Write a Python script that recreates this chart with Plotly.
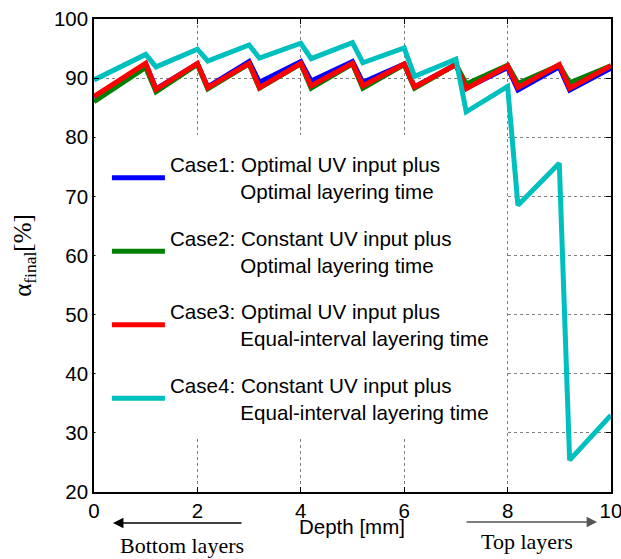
import plotly.graph_objects as go

# ---- data ----
depth = [0, 1.0, 1.2, 2.0, 2.2, 3.0, 3.2, 4.0, 4.2, 5.0, 5.2,
         6.0, 6.2, 7.0, 7.2, 8.0, 8.2, 9.0, 9.2, 10.0]

case1 = [86.8, 92.4, 88.2, 92.4, 88.5, 92.8, 89.3, 92.8, 89.5, 92.8, 89.3,
         92.4, 88.5, 92.3, 88.3, 91.8, 88.0, 91.9, 88.0, 91.7]
case2 = [86.0, 91.8, 87.7, 92.3, 88.2, 92.4, 88.3, 92.4, 88.3, 92.4, 88.3,
         92.3, 88.3, 92.3, 89.0, 92.2, 89.1, 92.2, 89.2, 92.1]
case3 = [86.9, 92.5, 88.1, 92.5, 88.4, 92.5, 88.4, 92.5, 88.7, 92.5, 88.7,
         92.4, 88.5, 92.3, 88.2, 92.1, 88.4, 92.3, 88.3, 92.1]
case4 = [89.7, 94.0, 91.9, 94.9, 92.9, 95.6, 93.4, 95.9, 93.3, 96.0, 92.6,
         95.1, 90.3, 93.2, 84.3, 88.6, 68.5, 75.6, 25.4, 33.0]

sp = "\u00a0" * 12 + "\u200a"
names = [
    "Case1: Optimal UV input plus<br>" + sp + "Optimal layering time",
    "Case2: Constant UV input plus<br>" + sp + "Optimal layering time",
    "Case3: Optimal UV input plus<br>" + sp + "Equal-interval layering time",
    "Case4: Constant UV input plus<br>" + sp + "Equal-interval layering time",
]
colors = ["#0000FF", "#008000", "#FF0000", "#00BFBF"]
series = [case1, case2, case3, case4]

x_ticks = [0, 2, 4, 6, 8, 10]
y_ticks = [20, 30, 40, 50, 60, 70, 80, 90, 100]

SANS = "Liberation Sans, Arial, sans-serif"
SERIF = "Liberation Serif, Times New Roman, serif"

fig = go.Figure()
for i, (vals, name, col) in enumerate(zip(series, names, colors)):
    fig.add_trace(go.Scatter(
        x=depth, y=vals, mode="lines", name=name,
        line=dict(color=col, width=5),
        legendgroup=f"g{i}",
    ))

axis_common = dict(
    showline=True, linecolor="black", linewidth=1.5, mirror="ticks",
    ticks="inside", ticklen=5, tickwidth=1, tickcolor="black",
    showgrid=True, gridcolor="#808080", griddash="dot", gridwidth=1,
    zeroline=False, tickfont=dict(family=SANS, size=20.5, color="black"),
    ticklabeloverflow="allow",
)

fig.update_layout(
    width=621, height=559,
    margin=dict(l=94, r=10, t=19, b=67),
    paper_bgcolor="white", plot_bgcolor="white",
    xaxis=dict(range=[0, 10], tickvals=x_ticks, automargin=False, **axis_common),
    yaxis=dict(range=[20, 100], tickvals=y_ticks, automargin=False, **axis_common,
               title=dict(text="α<sub>final</sub>[%]",
                          font=dict(family=SERIF, size=25, color="black"))),
    legend=dict(x=0.025, y=0.735, xanchor="left", yanchor="top",
                bgcolor="rgba(255,255,255,0)", borderwidth=0,
                font=dict(family=SANS, size=20.6, color="black"),
                traceorder="grouped", tracegroupgap=17, itemwidth=53),
    showlegend=True,
)

# white legend panel (covers the grid behind the legend, like the reference)
fig.add_shape(type="rect", xref="paper", yref="paper",
              x0=0.003, x1=0.795, y0=0.114, y1=0.755,
              fillcolor="white", line=dict(width=0), layer="above")

# x-axis title and the arrows/labels below the axis
fig.add_annotation(xref="paper", yref="paper", x=0.499, y=-0.073,
                   xanchor="center", yanchor="middle", text="Depth [mm]",
                   showarrow=False, font=dict(family=SANS, size=20.5, color="black"))
fig.add_annotation(xref="paper", yref="paper", x=0.0368, y=-0.0655,
                   ax=130, ay=0, text="", showarrow=True,
                   arrowhead=2, arrowsize=1.6, arrowwidth=1.3, arrowcolor="black")
fig.add_annotation(xref="paper", yref="paper", x=0.973, y=-0.0634,
                   ax=-132, ay=0, text="", showarrow=True,
                   arrowhead=2, arrowsize=1.6, arrowwidth=1.3, arrowcolor="#555555")
fig.add_annotation(xref="paper", yref="paper", x=0.170, y=-0.114,
                   xanchor="center", yanchor="middle", text="Bottom layers",
                   showarrow=False, font=dict(family=SERIF, size=22, color="black"))
fig.add_annotation(xref="paper", yref="paper", x=0.8375, y=-0.1036,
                   xanchor="center", yanchor="middle", text="Top layers",
                   showarrow=False, font=dict(family=SERIF, size=22, color="black"))

fig.write_html("out.html")
